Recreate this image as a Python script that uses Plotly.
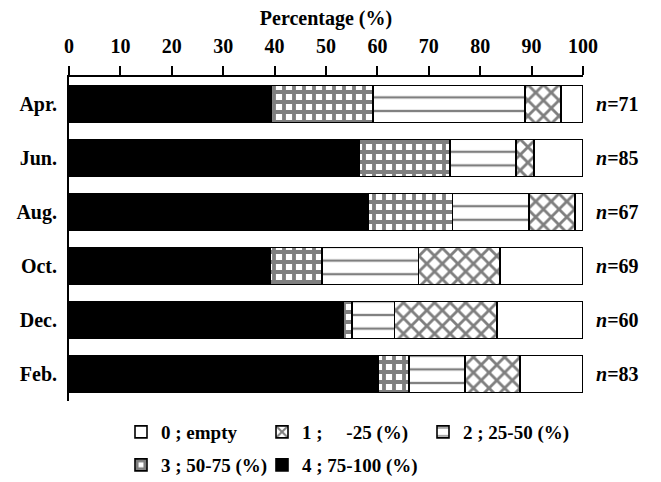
import plotly.graph_objects as go

months = ["Apr.", "Jun.", "Aug.", "Oct.", "Dec.", "Feb."]
n_vals = [71, 85, 67, 69, 60, 83]
x_ticks = list(range(0, 101, 10))

# percentages per class
cls4 = [39.4, 56.5, 58.2, 39.1, 53.3, 60.2]   # 75-100 %
cls3 = [19.7, 17.6, 16.4, 10.1, 1.7, 6.0]     # 50-75 %
cls2 = [29.6, 12.9, 14.9, 18.8, 8.3, 10.8]    # 25-50 %
cls1 = [7.0, 3.5, 9.0, 15.9, 20.0, 10.8]      # -25 %
cls0 = [4.3, 9.5, 1.5, 16.1, 16.7, 12.2]      # empty

names = {
    4: "4 ; 75-100 (%)",
    3: "3 ; 50-75 (%)",
    2: "2 ; 25-50 (%)",
    1: "1 ;\u00a0\u00a0\u00a0\u00a0\u00a0-25 (%)",
    0: "0 ; empty",
}

FONT = "Liberation Serif"
fig = go.Figure()

styles = {
    4: dict(color="black", pattern=dict(shape="")),
    3: dict(color="white", pattern=dict(shape="+", fgcolor="black", bgcolor="white", size=10, solidity=0.62)),
    2: dict(color="white", pattern=dict(shape="-", fgcolor="black", bgcolor="white", size=13.6, solidity=0.17)),
    1: dict(color="white", pattern=dict(shape="x", fgcolor="black", bgcolor="white", size=11, solidity=0.45)),
    0: dict(color="white", pattern=dict(shape="")),
}
data = {4: cls4, 3: cls3, 2: cls2, 1: cls1, 0: cls0}
legend_of = {0: "legend", 1: "legend2", 2: "legend3", 3: "legend4", 4: "legend5"}

for k in [4, 3, 2, 1, 0]:
    st = styles[k]
    fig.add_trace(go.Bar(
        y=months, x=data[k], orientation="h", name=names[k],
        legend=legend_of[k], showlegend=True,
        marker=dict(color=st["color"], pattern=st["pattern"],
                    line=dict(color="black", width=1.6)),
        width=0.68,
    ))

for m, n in zip(months, n_vals):
    fig.add_annotation(x=1.022, xref="paper", y=m, yref="y", xanchor="left",
                       text=f"<i>n</i>={n}", showarrow=False,
                       font=dict(family=FONT, size=20, color="black", weight="bold"))

W, H = 661, 482
def leg(px, py):
    return dict(orientation="h", xref="container", yref="container",
                x=px / W, y=1 - py / H, xanchor="left", yanchor="middle",
                font=dict(family=FONT, size=19, color="black", weight="bold"),
                bgcolor="rgba(0,0,0,0)", borderwidth=0)

fig.update_layout(
    barmode="stack",
    width=W, height=H,
    showlegend=True,
    margin=dict(l=69, r=78, t=77, b=79),
    paper_bgcolor="white", plot_bgcolor="white",
    font=dict(family=FONT, size=19, color="black"),
    bargap=0.32,
    legend=leg(121, 432),
    legend2=leg(262, 432),
    legend3=leg(423, 432),
    legend4=leg(121, 465),
    legend5=leg(262, 465),
    xaxis=dict(side="top", range=[0, 100], tickvals=x_ticks,
               ticks="outside", ticklen=9, tickwidth=2, tickcolor="black",
               showline=True, linewidth=2, linecolor="black", showgrid=False,
               zeroline=False, ticklabelstandoff=5,
               tickfont=dict(family=FONT, size=20, color="black", weight="bold"),
               title=dict(text="Percentage (%)", standoff=4,
                          font=dict(family=FONT, size=20, color="black", weight="bold"))),
    yaxis=dict(autorange="reversed", showline=True, linewidth=2, linecolor="black",
               ticks="", showgrid=False, ticklabelstandoff=6,
               tickfont=dict(family=FONT, size=20, color="black", weight="bold")),
)

fig.write_html("out.html")
